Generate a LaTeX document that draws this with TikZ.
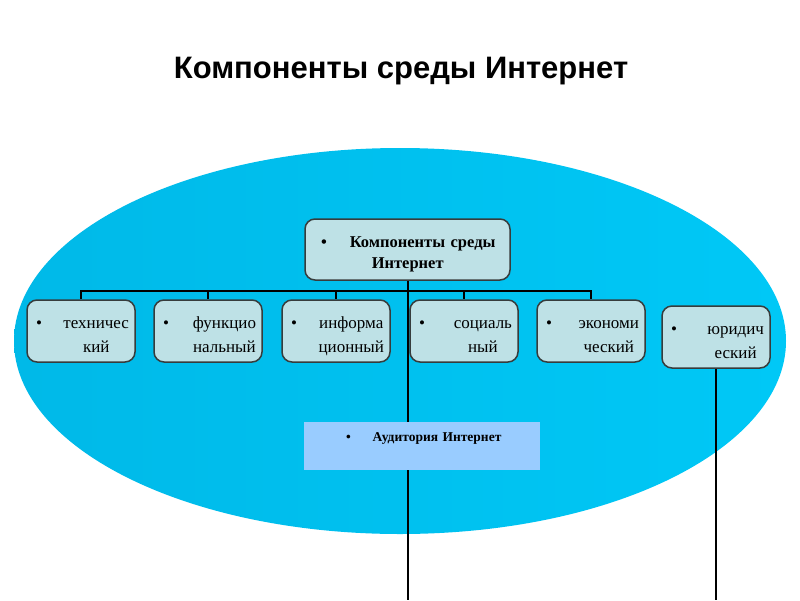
\documentclass[tikz,border=0pt]{standalone}
\usepackage{fontspec}
\setmainfont{Liberation Serif}
\newfontfamily\titlefont{Liberation Sans}
\newlength{\du}
\setlength{\du}{1\unitlength}

\definecolor{boxfill}{RGB}{190,225,230}
\definecolor{boxline}{RGB}{55,60,60}
\definecolor{audfill}{RGB}{153,204,255}
\definecolor{cyanleft}{RGB}{0,185,232}
\definecolor{cyanmid}{RGB}{0,172,216}
\definecolor{cyanright}{RGB}{0,200,246}

\tikzset{
  compbox/.style={draw=boxline, fill=boxfill, rounded corners=10\du, line width=1.5\du,
    minimum width=108\du, minimum height=62\du, inner sep=0pt, text width=96\du,
    font=\fontsize{17}{23.5}\selectfont},
  conn/.style={draw=black, line width=2\du},
}
\newcommand{\bulletitem}[2]{\rule{0pt}{26\du}\hspace*{3\du}\textbullet\hfill\begin{tabular}[t]{@{}c@{}}#1\\#2\end{tabular}}

\begin{document}
\begin{tikzpicture}
\pgftransformxscale{1.000000}
\pgftransformyscale{-1.000000}
\useasboundingbox (0\du,0\du) rectangle (800\du,600\du);
% ellipse
\shade[left color=cyanleft, middle color=cyanmid, right color=cyanright] (400\du,341\du) ellipse [x radius=386\du, y radius=193\du];
% title
\node (title) at (401\du,71\du){\titlefont\bfseries\fontsize{31}{36}\selectfont Компоненты среды Интернет};
% boxes
\node[compbox, minimum width=205\du, minimum height=61\du, text width=185\du, font=\bfseries\fontsize{16.5}{21}\selectfont] (comp) at (407.5\du,249.5\du){\rule{0pt}{24\du}\hspace*{6\du}\textbullet\hspace{23\du}\begin{tabular}[t]{@{}l@{}}Компоненты среды\\\hspace{22\du}Интернет\end{tabular}};
\node[compbox] (tech) at (81\du,331\du){\bulletitem{техничес}{кий}};
\node[compbox] (func) at (208\du,331\du){\bulletitem{функцио}{нальный}};
\node[compbox] (info) at (336\du,331\du){\bulletitem{информа}{ционный}};
\node[compbox] (soc) at (464\du,331\du){\bulletitem{социаль}{ный}};
\node[compbox] (econ) at (591\du,331\du){\bulletitem{экономи}{ческий}};
\node[compbox] (jur) at (716\du,337\du){\bulletitem{юридич}{еский}};
\coordinate (bus) at (407.5\du,291\du);
\coordinate (endc) at (407.5\du,600\du);
\coordinate (endr) at (716\du,600\du);
% connectors
\draw[conn] (comp.south) -- (endc);
\foreach \n in {tech,func,info,soc,econ}
  \draw[conn] (bus) -| (\n.north);
\draw[conn] (jur.south) -- (endr);
% audience
\node[fill=audfill, anchor=north, inner xsep=0pt, inner ysep=6\du, text width=236\du, text height=13\du, text depth=23\du, font=\bfseries\fontsize{13.5}{16}\selectfont] (aud) at (422\du,422\du){\hspace*{42\du}\textbullet\hspace{22\du}Аудитория Интернет};
\end{tikzpicture}
\end{document}
